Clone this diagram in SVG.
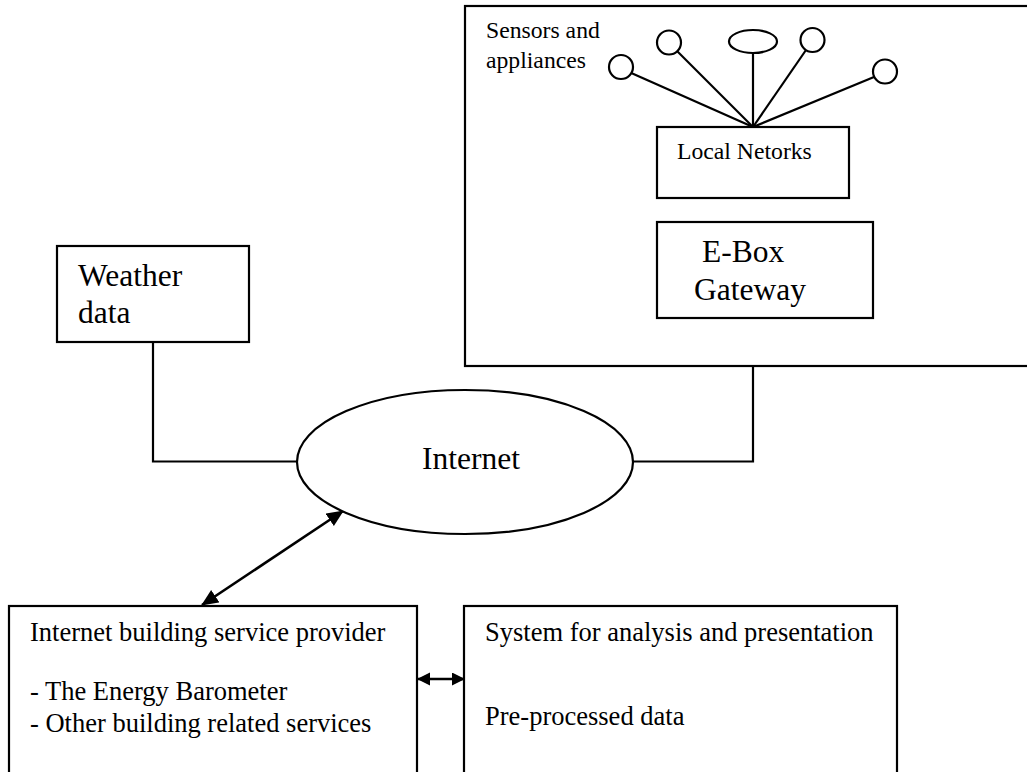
<svg xmlns="http://www.w3.org/2000/svg" width="1027" height="772" viewBox="0 0 1027 772">
<style>
  .box { fill: #fff; stroke: #000; stroke-width: 2.2; }
  .ln { fill: none; stroke: #000; stroke-width: 2.2; }
  .ar { fill: none; stroke: #000; stroke-width: 2.6; }
  .t { font-family: "Liberation Serif", "Times New Roman", serif; fill: #000; }
  .s { font-size: 23.7px; }
  .b { font-size: 31.5px; }
  .m { font-size: 26.5px; }
</style>
<defs>
  <marker id="ah" markerUnits="userSpaceOnUse" markerWidth="18" markerHeight="16" refX="16" refY="7.5" orient="auto-start-reverse">
    <path d="M0,0 L17,7.5 L0,15 z" fill="#000"/>
  </marker>
  <marker id="ah2" markerUnits="userSpaceOnUse" markerWidth="14" markerHeight="14" refX="12" refY="6.5" orient="auto-start-reverse">
    <path d="M0,0 L13,6.5 L0,13 z" fill="#000"/>
  </marker>
</defs>
<rect width="1027" height="772" fill="#fff"/>

<g id="premises">
  <rect class="box" x="465" y="6" width="570" height="360"/>
  <text class="t s" x="486" y="38">Sensors and</text>
  <text class="t s" x="486" y="68">appliances</text>
</g>

<g id="sensors">
  <line class="ln" x1="629" y1="72" x2="753" y2="127"/>
  <line class="ln" x1="677" y1="51" x2="753" y2="127"/>
  <line class="ln" x1="753" y1="53" x2="753" y2="127"/>
  <line class="ln" x1="806" y1="50" x2="753" y2="127"/>
  <line class="ln" x1="874" y1="77" x2="753" y2="127"/>
  <circle class="box" cx="621" cy="67" r="12"/>
  <circle class="box" cx="669" cy="42.5" r="12"/>
  <ellipse class="box" cx="753" cy="41.5" rx="24" ry="11.5"/>
  <circle class="box" cx="812.5" cy="40" r="12"/>
  <circle class="box" cx="885" cy="71.5" r="12"/>
</g>

<g id="local-networks">
  <rect class="box" x="657" y="127" width="192" height="71"/>
  <text class="t s" x="677" y="159">Local Netorks</text>
</g>

<g id="ebox-gateway">
  <rect class="box" x="657" y="222" width="216" height="96"/>
  <text class="t b" x="702" y="262">E-Box</text>
  <text class="t b" x="694" y="300">Gateway</text>
</g>

<g id="weather-data">
  <rect class="box" x="57" y="246" width="192" height="96"/>
  <text class="t b" x="78" y="286">Weather</text>
  <text class="t b" x="78" y="323">data</text>
</g>

<g id="connectors">
  <polyline class="ln" points="153,342 153,461.5 297,461.5"/>
  <polyline class="ln" points="753,366 753,461.5 633,461.5"/>
  <line class="ar" x1="202" y1="605" x2="343" y2="511" marker-start="url(#ah)" marker-end="url(#ah)"/>
  <line class="ar" x1="418" y1="679" x2="464" y2="679" marker-start="url(#ah2)" marker-end="url(#ah2)"/>
</g>

<g id="internet">
  <ellipse class="box" cx="465" cy="462" rx="168" ry="72"/>
  <text class="t b" x="422" y="469">Internet</text>
</g>

<g id="service-provider">
  <rect class="box" x="9" y="606" width="408" height="180"/>
  <text class="t m" x="30" y="641">Internet building service provider</text>
  <text class="t m" x="30" y="700">- The Energy Barometer</text>
  <text class="t m" x="30" y="732">- Other building related services</text>
</g>

<g id="analysis-system">
  <rect class="box" x="464" y="606" width="433" height="180"/>
  <text class="t m" x="485" y="641">System for analysis and presentation</text>
  <text class="t m" x="485" y="725">Pre-processed data</text>
</g>
</svg>
